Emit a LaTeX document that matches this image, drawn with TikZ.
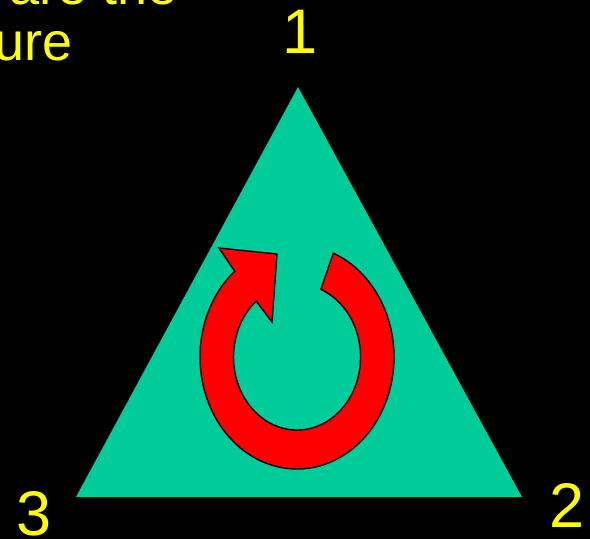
\documentclass[tikz,border=0pt]{standalone}
\usepackage{fontspec}
\setmainfont{Liberation Sans}
\usetikzlibrary{calc}
\definecolor{tealfill}{RGB}{0,204,153}
\definecolor{labelyellow}{RGB}{255,255,0}
\begin{document}
\begin{tikzpicture}[x=1pt,y=1pt,
  vlabel/.style={text=labelyellow,inner sep=0pt,outer sep=0pt,anchor=base,font=\fontsize{63}{63}\selectfont},
  titletext/.style={text=labelyellow,inner sep=0pt,outer sep=0pt,anchor=base east,font=\fontsize{54}{54}\selectfont},
  arrowshape/.style={fill=red,draw=black,line width=1.4pt,line join=miter}]
\fill[black] (0,0) rectangle (590,539);
\useasboundingbox (0,0) rectangle (590,539);
\begin{scope}
\clip (0,0) rectangle (590,539);
\node[titletext] (t1) at (178,534) {are the};
\node[titletext] (t2) at (73,478) {ure};
\end{scope}
% triangle
\coordinate (v1) at (298,452);
\coordinate (v2) at (522,42);
\coordinate (v3) at (76,42);
\fill[tealfill] (v1) -- (v2) -- (v3) -- cycle;
% labels
\node[vlabel] (l1) at (299.8,485) {1};
\node[vlabel] (l2) at (567,11) {2};
\node[vlabel] (l3) at (33.6,3) {3};
% circular arrow
\coordinate (c) at (297,182);
\draw[arrowshape] ($(c)+(68:97 and 112)$)
  arc[start angle=68, end angle=-230, x radius=97, y radius=112]
  -- (219,291) -- (277,285) -- (272,217) -- (256.2,237.9)
  arc[start angle=-230, end angle=68, x radius=63.5, y radius=73]
  -- cycle;
\end{tikzpicture}
\end{document}
